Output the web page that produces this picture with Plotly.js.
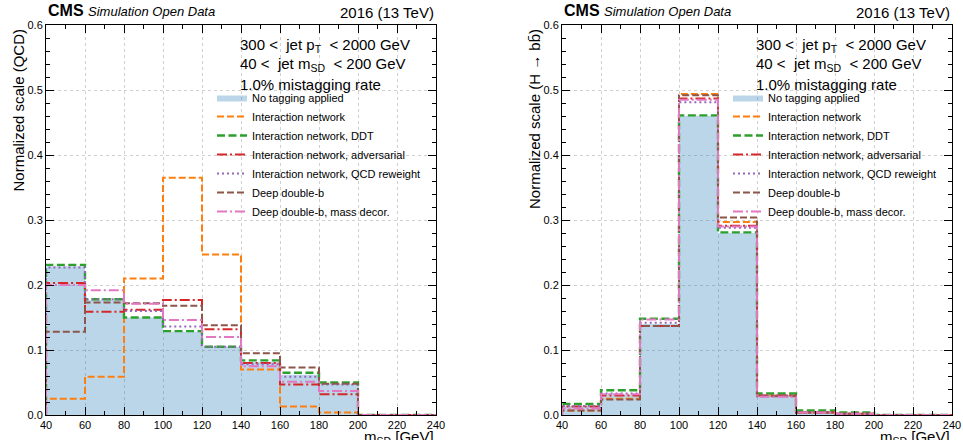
<!DOCTYPE html>
<html><head><meta charset="utf-8">
<script src="https://cdn.plot.ly/plotly-3.0.1.min.js"></script>
<style>html,body{margin:0;padding:0;background:#fff}#plot{width:963px;height:440px}</style>
</head><body><div id="plot"></div>
<script>
// bin edges (GeV) of the soft-drop mass histograms
const binEdges = [40, 60, 80, 100, 120, 140, 160, 180, 200, 220, 240];
const seriesNames = ["No tagging applied", "Interaction network", "Interaction network, DDT",
  "Interaction network, adversarial", "Interaction network, QCD reweight",
  "Deep double-b", "Deep double-b, mass decor."];
// QCD panel (normalized)
const qcdNoTag   = [0.229, 0.177, 0.150, 0.128, 0.105, 0.082, 0.062, 0.048, 0, 0];
const qcdIN      = [0.025, 0.059, 0.210, 0.365, 0.247, 0.070, 0.013, 0.004, 0, 0];
const qcdDDT     = [0.231, 0.178, 0.150, 0.129, 0.105, 0.084, 0.065, 0.050, 0, 0];
const qcdAdv     = [0.203, 0.159, 0.162, 0.177, 0.132, 0.080, 0.047, 0.032, 0, 0];
const qcdReweight= [0.227, 0.178, 0.160, 0.136, 0.105, 0.078, 0.059, 0.047, 0, 0];
const qcdDDB     = [0.128, 0.173, 0.172, 0.168, 0.138, 0.095, 0.073, 0.048, 0, 0];
const qcdDDBmd   = [0.200, 0.192, 0.171, 0.146, 0.120, 0.075, 0.051, 0.037, 0, 0];
// H->bb panel (normalized)
const hbbNoTag   = [0.014, 0.031, 0.140, 0.460, 0.280, 0.030, 0.006, 0.003, 0, 0];
const hbbIN      = [0.007, 0.025, 0.137, 0.494, 0.297, 0.030, 0.004, 0.002, 0, 0];
const hbbDDT     = [0.017, 0.038, 0.148, 0.461, 0.281, 0.033, 0.007, 0.004, 0, 0];
const hbbAdv     = [0.013, 0.030, 0.137, 0.487, 0.291, 0.030, 0.004, 0.002, 0, 0];
const hbbReweight= [0.014, 0.033, 0.142, 0.481, 0.288, 0.030, 0.004, 0.002, 0, 0];
const hbbDDB     = [0.007, 0.024, 0.137, 0.492, 0.304, 0.029, 0.004, 0.002, 0, 0];
const hbbDDBmd   = [0.010, 0.032, 0.147, 0.485, 0.290, 0.028, 0.004, 0.002, 0, 0];
const xTickVals = [40, 60, 80, 100, 120, 140, 160, 180, 200, 220, 240];
const yTickVals = [0, 0.1, 0.2, 0.3, 0.4, 0.5, 0.6];
const yTickText = ["0.0", "0.1", "0.2", "0.3", "0.4", "0.5", "0.6"];

function stepXY(edges, vals) {
  const x = [edges[0]], y = [0];
  for (let i = 0; i < vals.length; i++) { x.push(edges[i], edges[i+1]); y.push(vals[i], vals[i]); }
  x.push(edges[edges.length-1]); y.push(0);
  return {x, y};
}
const styles = [
  {color: '#ff7f0e', dash: '7px,3px', width: 2},
  {color: '#2ca02c', dash: '8px,3.5px', width: 2.4},
  {color: '#d62728', dash: '10px,3px,2px,3px', width: 2},
  {color: '#9467bd', dash: '2px,3px', width: 2},
  {color: '#8c564b', dash: '7px,3px', width: 2},
  {color: '#e377c2', dash: '10px,3px,2px,3px', width: 2}
];
const traces = [];
function addPanel(sets, xa, ya, leg) {
  const f = stepXY(binEdges, sets[0]);
  traces.push({x: f.x, y: f.y, xaxis: xa, yaxis: ya, legend: leg, name: seriesNames[0], type: 'scatter', mode: 'lines',
    fill: 'tozeroy', fillcolor: 'rgba(31,119,180,0.3)', line: {width: 0, color: 'rgba(31,119,180,0.3)'}, hoverinfo: 'skip'});
  for (let i = 1; i < sets.length; i++) {
    const s = stepXY(binEdges, sets[i]);
    traces.push({x: s.x, y: s.y, xaxis: xa, yaxis: ya, legend: leg, name: seriesNames[i], type: 'scatter', mode: 'lines',
      line: styles[i-1]});
  }
}
addPanel([qcdNoTag, qcdIN, qcdDDT, qcdAdv, qcdReweight, qcdDDB, qcdDDBmd], 'x', 'y', 'legend');
addPanel([hbbNoTag, hbbIN, hbbDDT, hbbAdv, hbbReweight, hbbDDB, hbbDDBmd], 'x2', 'y2', 'legend2');

const W = 963, H = 440;
const px = v => v / W, py = v => 1 - v / H;
const FONT = 'Liberation Sans, Arial, Helvetica, sans-serif';
function xAxis(l, r, anchor) {
  return {domain: [px(l), px(r)], range: [40, 240], anchor: anchor, tickvals: xTickVals, ticks: 'inside', ticklen: 8,
    tickwidth: 1, tickcolor: '#000', showline: true, linecolor: '#000', linewidth: 1, mirror: 'allticks',
    showgrid: true, gridcolor: '#d0d0d0', griddash: 'dot', gridwidth: 1, zeroline: false, fixedrange: true,
    tickfont: {size: 11, color: '#000', family: FONT},
    minor: {dtick: 10, tick0: 40, ticks: 'inside', ticklen: 4, tickcolor: '#000', showgrid: false}};
}
function yAxis(anchor) {
  return {domain: [py(415), py(25)], range: [0, 0.6], anchor: anchor, tickvals: yTickVals, ticktext: yTickText,
    ticks: 'inside', ticklen: 8, tickwidth: 1, tickcolor: '#000', showline: true, linecolor: '#000', linewidth: 1,
    mirror: 'allticks', showgrid: true, gridcolor: '#d0d0d0', griddash: 'dot', zeroline: false, fixedrange: true,
    tickfont: {size: 11, color: '#000', family: FONT},
    minor: {dtick: 0.02, tick0: 0, ticks: 'inside', ticklen: 4, tickcolor: '#000', showgrid: false}};
}
const ann = [];
function panelText(l, r, ytitle) {
  ann.push({xref: 'paper', yref: 'paper', x: px(l), y: py(21), xanchor: 'left', yanchor: 'bottom', showarrow: false,
    text: '<b>CMS</b> <i><span style="font-size:13px">Simulation Open Data</span></i>', font: {size: 16, family: FONT, color: '#000'}});
  ann.push({xref: 'paper', yref: 'paper', x: px(r), y: py(23), xanchor: 'right', yanchor: 'bottom', showarrow: false,
    text: '2016 (13 TeV)', font: {size: 15, family: FONT, color: '#000'}});
  const tx = l + 192;
  ann.push({xref: 'paper', yref: 'paper', x: px(tx), y: py(46), xanchor: 'left', yanchor: 'middle', showarrow: false,
    text: '300 <  jet p<sub>T</sub>  < 2000 GeV', font: {size: 15, family: FONT, color: '#000'}});
  ann.push({xref: 'paper', yref: 'paper', x: px(tx), y: py(65), xanchor: 'left', yanchor: 'middle', showarrow: false,
    text: '40 <  jet m<sub>SD</sub>  < 200 GeV', font: {size: 15, family: FONT, color: '#000'}});
  ann.push({xref: 'paper', yref: 'paper', x: px(tx), y: py(85), xanchor: 'left', yanchor: 'middle', showarrow: false,
    text: '1.0% mistagging rate', font: {size: 15, family: FONT, color: '#000'}});
  ann.push({xref: 'paper', yref: 'paper', x: px(r), y: py(426), xanchor: 'right', yanchor: 'top', showarrow: false,
    text: 'm<sub>SD</sub> [GeV]', font: {size: 15, family: FONT, color: '#000'}});
  ann.push({xref: 'paper', yref: 'paper', x: px(l - 28), y: py(27), xanchor: 'center', yanchor: 'top', showarrow: false,
    textangle: -90, text: ytitle, font: {size: 15, family: FONT, color: '#000'}});
}
panelText(46, 436, 'Normalized scale (QCD)');
panelText(562, 952, 'Normalized scale (H \u2192 bb\u0304)');

const legBase = {bgcolor: 'rgba(0,0,0,0)', borderwidth: 0, font: {size: 11, family: FONT, color: '#000'},
  xanchor: 'left', yanchor: 'top', itemwidth: 30, tracegroupgap: 0};
const layout = {
  width: W, height: H, margin: {l: 0, r: 0, t: 0, b: 0}, paper_bgcolor: '#fff', plot_bgcolor: '#fff',
  showlegend: true,
  xaxis: xAxis(46, 436, 'y'), yaxis: yAxis('x'),
  xaxis2: xAxis(562, 952, 'y2'), yaxis2: yAxis('x2'),
  legend: Object.assign({x: px(212), y: py(83)}, legBase),
  legend2: Object.assign({x: px(728), y: py(83)}, legBase),
  annotations: ann
};
Plotly.newPlot('plot', traces, layout, {staticPlot: true});
</script></body></html>
